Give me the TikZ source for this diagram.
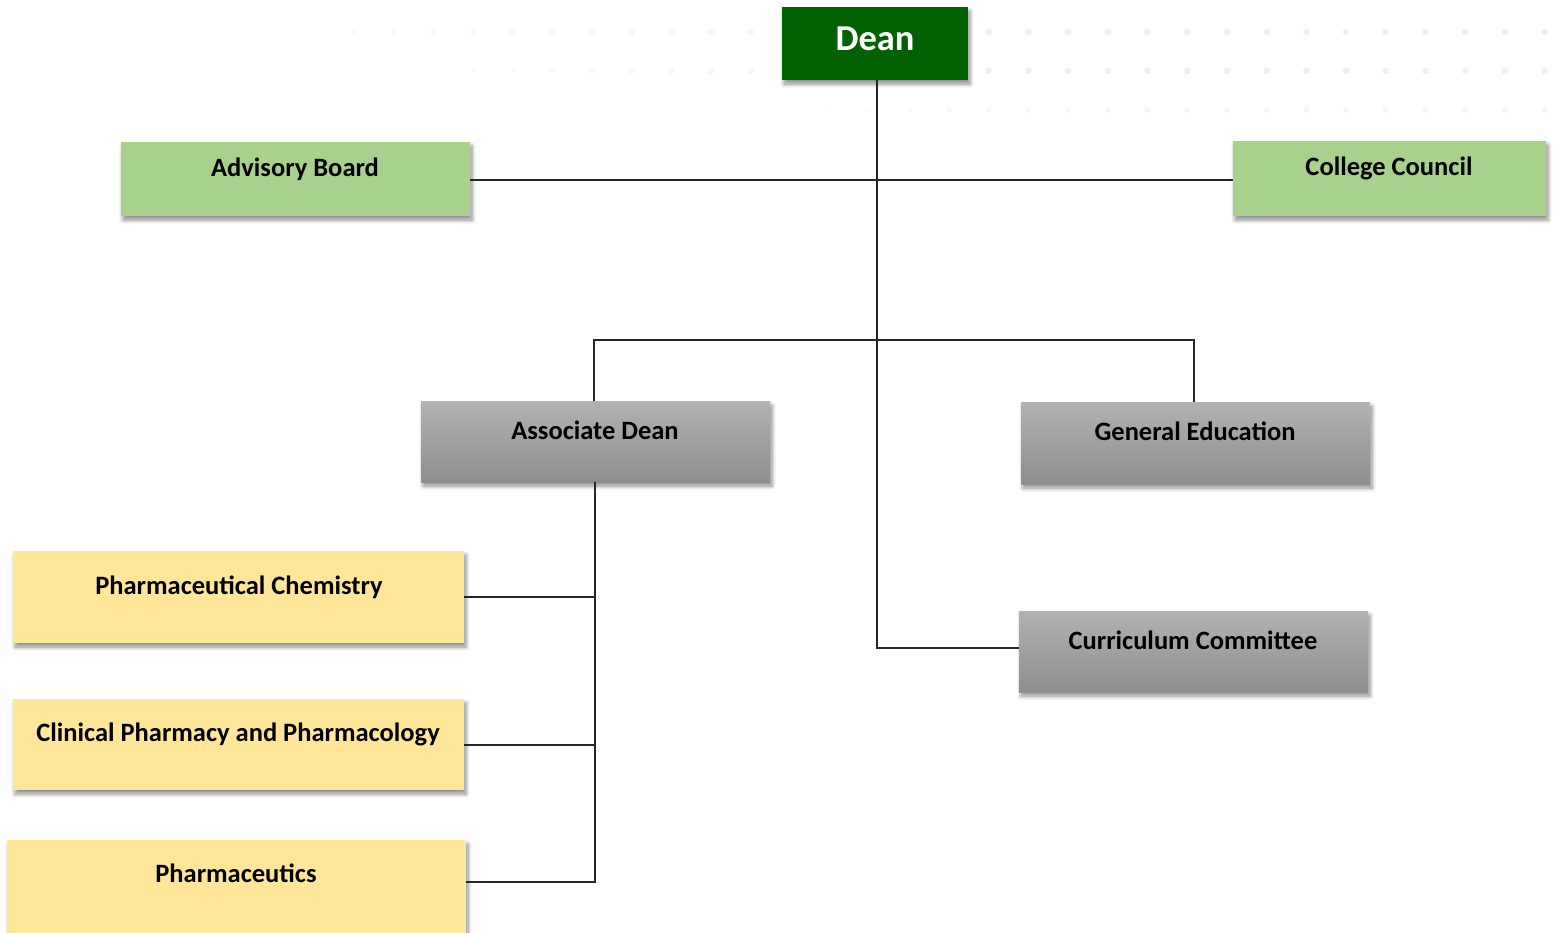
\documentclass[tikz,border=0pt]{standalone}
\usepackage{fontspec}
\setmainfont{Carlito}
\usetikzlibrary{shadows,shadows.blur}
\definecolor{deangreen}{HTML}{006100}
\definecolor{lightgreen}{HTML}{A9D18E}
\definecolor{lightyellow}{HTML}{FFE699}
\definecolor{graytop}{HTML}{B2B2B2}
\definecolor{graybot}{HTML}{8E8E8E}
\definecolor{dotgray}{HTML}{EFEFEF}
\begin{document}
\begin{tikzpicture}[x=1pt,y=-1pt,
  box/.style={rectangle, inner sep=0pt, draw=none,
    blur shadow={shadow xshift=2pt, shadow yshift=-4pt, shadow blur radius=4pt, shadow blur steps=6, shadow opacity=45}},
  deanbox/.style={box, fill=deangreen},
  greenbox/.style={box, fill=lightgreen},
  yellowbox/.style={box, fill=lightyellow},
  graybox/.style={box, top color=graytop, bottom color=graybot},
  lbl/.style={anchor=base, inner sep=0pt, font=\bfseries\fontsize{26.5}{30}\selectfont, text=black},
  deanlbl/.style={anchor=base, inner sep=0pt, font=\bfseries\fontsize{36.5}{42}\selectfont, text=white},
  conn/.style={draw=black!85, line width=1.1pt}
]
\useasboundingbox (0,0) rectangle (1554,932);
% faint dotted background
\foreach \i in {0,...,35} {
  \pgfmathsetmacro{\xx}{155+39.7*\i}
  \pgfmathsetmacro{\op}{min(1,\i/20)}
  \fill[dotgray, opacity=\op] (\xx,32) circle (3.2);
}
\foreach \i in {4,...,35} {
  \pgfmathsetmacro{\xx}{155+39.7*\i}
  \pgfmathsetmacro{\op}{min(1,(\i-4)/18)}
  \fill[dotgray, opacity=\op] (\xx,71) circle (3.2);
}
\foreach \i in {15,...,35} {
  \pgfmathsetmacro{\xx}{155+39.7*\i}
  \pgfmathsetmacro{\op}{min(0.6,(\i-15)/14)}
  \fill[dotgray, opacity=\op] (\xx,110) circle (3);
}

% boxes
\node[deanbox, minimum width=186, minimum height=73] (dean) at (875,43.5) {};
\node[greenbox, minimum width=349, minimum height=74] (adv) at (295.5,179) {};
\node[greenbox, minimum width=313, minimum height=75] (cc) at (1389.5,178.5) {};
\node[graybox, minimum width=349, minimum height=81] (assoc) at (595.5,441.5) {};
\node[graybox, minimum width=349, minimum height=82] (gened) at (1195.5,443) {};
\node[graybox, minimum width=349, minimum height=81] (curr) at (1193.5,651.5) {};
\node[yellowbox, minimum width=451, minimum height=92] (chem) at (238.5,597) {};
\node[yellowbox, minimum width=451, minimum height=91] (clin) at (238.5,744.5) {};
\node[yellowbox, minimum width=459, minimum height=93] (phce) at (236.5,886.5) {};

% labels
\node[deanlbl] (deant) at (875,50) {Dean};
\node[lbl] (advt) at (295,176) {Advisory Board};
\node[lbl] (cct) at (1389,175) {College Council};
\node[lbl] (assoct) at (595,439) {Associate Dean};
\node[lbl] (genedt) at (1195,440) {General Education};
\node[lbl] (currt) at (1193,649) {Curriculum Committee};
\node[lbl] (chemt) at (239,594) {Pharmaceutical Chemistry};
\node[lbl] (clint) at (238,741) {Clinical Pharmacy and Pharmacology};
\node[lbl] (phcet) at (236,882) {Pharmaceutics};

% junction coordinates
\coordinate (j1) at (877,180);
\coordinate (j3) at (877,648);
\coordinate (jl) at (594,340);
\coordinate (jr) at (1194,340);
\coordinate (a1) at (595,597);
\coordinate (a2) at (595,745);
\coordinate (a3) at (595,882);

% connectors
\draw[conn] (dean.south -| j1) -- (j3) -- (curr.west |- j3);
\draw[conn] (adv.east |- j1) -- (cc.west |- j1);
\draw[conn] (assoc.north -| jl) -- (jl) -- (jr) -- (gened.north -| jr);
\draw[conn] (assoc.south -| a1) -- (a3) -- (phce.east |- a3);
\draw[conn] (chem.east |- a1) -- (a1);
\draw[conn] (clin.east |- a2) -- (a2);
\end{tikzpicture}
\end{document}
